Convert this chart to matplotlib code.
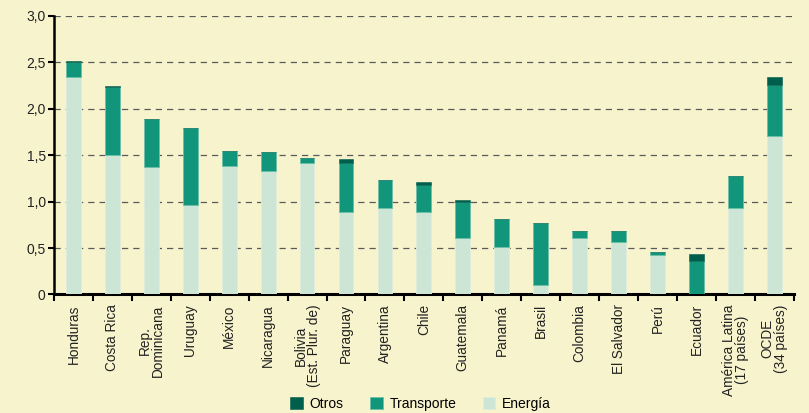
import numpy as np
import matplotlib.pyplot as plt

# --- colours ---
BG = "#F7F4CD"
C_OTROS = "#005E4C"
C_TRANS = "#12967B"
C_ENERG = "#CDE5D4"

paises = ["Honduras", "Costa Rica", "Rep.\nDominicana", "Uruguay", "México",
          "Nicaragua", "Bolivia\n(Est. Plur. de)", "Paraguay", "Argentina", "Chile",
          "Guatemala", "Panamá", "Brasil", "Colombia", "El Salvador", "Perú",
          "Ecuador", "América Latina\n(17 países)", "OCDE\n(34 países)"]

energia = [2.34, 1.50, 1.37, 0.96, 1.38, 1.33, 1.42, 0.89, 0.93, 0.89,
           0.61, 0.51, 0.10, 0.61, 0.57, 0.42, 0.00, 0.93, 1.70]
transporte = [0.16, 0.73, 0.52, 0.83, 0.16, 0.20, 0.05, 0.53, 0.30, 0.29,
              0.39, 0.30, 0.67, 0.07, 0.11, 0.04, 0.36, 0.34, 0.55]
otros = [0.01, 0.01, 0.00, 0.00, 0.00, 0.00, 0.00, 0.035, 0.00, 0.03,
         0.02, 0.00, 0.00, 0.00, 0.00, 0.00, 0.08, 0.01, 0.09]

plt.rcParams['font.family'] = ['Liberation Sans', 'DejaVu Sans']

fig = plt.figure(figsize=(8.09, 4.13), dpi=100, facecolor=BG)
ax = fig.add_axes([0.0667, 0.287, 0.9145, 0.675])
ax.set_facecolor(BG)

x = np.arange(len(paises))
e = np.array(energia)
t = np.array(transporte)
o = np.array(otros)
w = 0.38
ax.bar(x, e, w, color=C_ENERG, edgecolor="#DDEEDD", linewidth=0.6, label="Energía", zorder=3)
ax.bar(x, t, w, bottom=e, color=C_TRANS, edgecolor="#6CC0A8", linewidth=0.6, label="Transporte", zorder=3)
ax.bar(x, o, w, bottom=e + t, color=C_OTROS, edgecolor=C_OTROS, linewidth=0.4, label="Otros", zorder=3)

ax.set_xlim(-0.5, len(paises) - 0.5)
ax.set_ylim(0, 3.0)
ax.set_yticks(np.arange(0, 3.01, 0.5))
ax.set_yticklabels(["0", "0,5", "1,0", "1,5", "2,0", "2,5", "3,0"], fontsize=10, color="#222222")
ax.yaxis.grid(True, linestyle=(0, (5, 4)), color="#5a5a5a", linewidth=0.9, zorder=0)

ax.set_xticks(x)
ax.set_xticklabels(paises, rotation=90, fontsize=9.8, linespacing=0.92, va="top", ha="center",
                   color="#222222")
ax.tick_params(axis="x", length=0, pad=7)
ax.set_xticks(np.arange(-0.5, len(paises)), minor=True)
ax.tick_params(axis="x", which="minor", length=5, width=1.5, direction="out")
ax.tick_params(axis="y", length=4, width=1.5, direction="out", pad=2)

for s in ["top", "right"]:
    ax.spines[s].set_visible(False)
ax.spines["left"].set_linewidth(1.8)
ax.spines["bottom"].set_linewidth(2.2)

h, l = ax.get_legend_handles_labels()
order = [2, 1, 0]
fig.legend([h[i] for i in order], [l[i] for i in order], loc="lower center",
           bbox_to_anchor=(0.52, -0.025), ncol=3, frameon=False, fontsize=10,
           handlelength=0.9, handleheight=0.9, columnspacing=1.9, handletextpad=0.5)

fig.savefig("out.png", dpi=100, facecolor=BG)
